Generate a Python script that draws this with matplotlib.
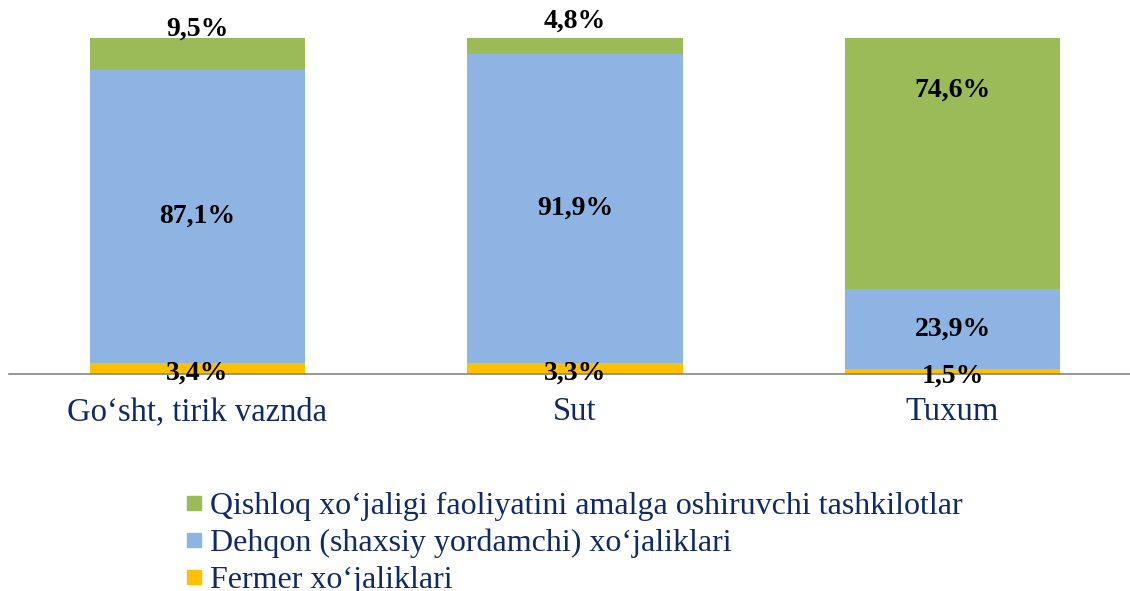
import matplotlib.pyplot as plt
from matplotlib.lines import Line2D
import numpy as np

categories = ['Go\u2018sht, tirik vaznda', 'Sut', 'Tuxum']
fermer = [3.4, 3.3, 1.5]
dehqon = [87.1, 91.9, 23.9]
tashkilot = [9.5, 4.8, 74.6]
series_names = ['Qishloq xo\u2018jaligi faoliyatini amalga oshiruvchi tashkilotlar',
                'Dehqon (shaxsiy yordamchi) xo\u2018jaliklari',
                'Fermer xo\u2018jaliklari']

c_green = '#9BBB59'
c_blue = '#8EB4E3'
c_yellow = '#FFC000'
navy = '#0F2A66'

plt.rcParams['font.family'] = ['Liberation Serif', 'DejaVu Serif']

fig = plt.figure(figsize=(11.3, 5.91), dpi=100)
ax = fig.add_axes([0.0077, 0.367, 0.9923, 0.569])

x = np.arange(len(categories))
w = 0.57
f = np.array(fermer)
d = np.array(dehqon)
t = np.array(tashkilot)
ax.bar(x, f, w, color=c_yellow)
ax.bar(x, d, w, bottom=f, color=c_blue)
ax.bar(x, t, w, bottom=f + d, color=c_green)

# label positions: segment centres, with small segments nudged like the original
lab_kw = dict(ha='center', va='center', fontsize=20, fontweight='bold', color='black')
for i in range(len(categories)):
    yf = f[i] / 2 - 1.4
    yd = f[i] + d[i] / 2
    yt = f[i] + d[i] + t[i] / 2
    if t[i] < 15:
        yt = 100 + (2.6 if t[i] > 6 else 5.0)
    elif t[i] > 50:
        yt = 84.5
    ax.text(x[i], yf, f'{fermer[i]}%'.replace('.', ','), **lab_kw)
    ax.text(x[i], yd, f'{dehqon[i]}%'.replace('.', ','), **lab_kw)
    ax.text(x[i], yt, f'{tashkilot[i]}%'.replace('.', ','), **lab_kw)

ax.set_xlim(-0.5, 2.47)
ax.set_ylim(0, 100)
for s in ['top', 'right', 'left']:
    ax.spines[s].set_visible(False)
ax.spines['bottom'].set_color('#868686')
ax.spines['bottom'].set_linewidth(1.2)
ax.set_yticks([])
ax.set_xticks(x)
ax.set_xticklabels(categories, fontsize=23.5, color=navy)
ax.tick_params(axis='x', length=0, pad=16)

handles = [Line2D([], [], marker='s', linestyle='none', markersize=10,
                  markerfacecolor=c, markeredgecolor=c)
           for c in [c_green, c_blue, c_yellow]]
fig.legend(handles, series_names, loc='upper left', bbox_to_anchor=(0.165, 0.168),
           frameon=False, fontsize=23, labelcolor=navy, handlelength=0.5,
           handletextpad=0.25, labelspacing=0.24, borderpad=0, borderaxespad=0)

fig.savefig('out.png', dpi=100)
